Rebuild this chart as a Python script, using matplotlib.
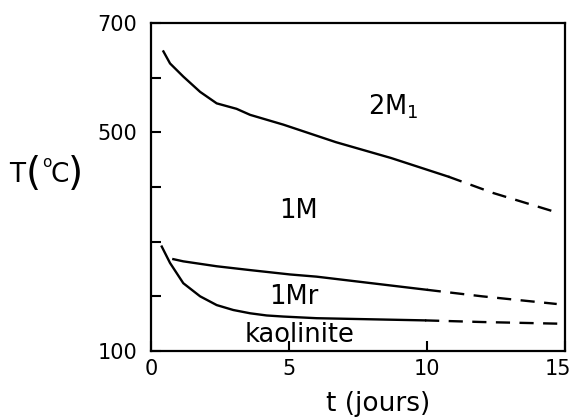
# %% Pakete

import matplotlib
matplotlib.use('Agg')
import matplotlib.pyplot as plt
from matplotlib.transforms import ScaledTranslation

plt.rcParams['font.family'] = ['DejaVu Sans']
plt.rcParams['mathtext.fontset'] = 'dejavusans'

# %% Daten

# Grenze 2M1 / 1M
t_2m1 = [0.45, 0.69, 1.17, 1.78, 2.38, 3.1, 3.59, 4.8, 6.7, 8.7, 10.77]
T_2m1 = [648, 626, 602, 574, 553, 543, 532, 514, 482, 453, 419]
t_2m1_dash = [10.77, 12.4, 14.8]
T_2m1_dash = [419, 389, 352]

# Grenze 1M / 1Mr
t_1m = [0.81, 1.17, 2.38, 3.59, 5.04, 6.0, 9.99]
T_1m = [268, 264, 255, 248, 240, 236, 212]
t_1m_dash = [9.99, 12.0, 14.7]
T_1m_dash = [212, 200, 186]

# Grenze 1Mr / kaolinite
t_kao = [0.39, 0.69, 1.17, 1.78, 2.38, 2.98, 3.59, 4.19, 4.8, 6.0, 9.93]
T_kao = [291, 261, 224, 200, 184, 175, 169, 165, 163, 160, 156]
t_kao_dash = [9.93, 12.0, 14.76]
T_kao_dash = [156, 153, 150]

# Beschriftungen der Felder
feld_text = ['1M', '1Mr', 'kaolinite']
feld_t = [5.33, 5.18, 5.4]
feld_T = [356, 199, 130]

x_ticks = [0, 5, 10, 15]
y_ticks = [100, 200, 300, 400, 500, 600, 700]
y_labels = ['100', '', '', '', '500', '', '700']

# %% Plot

fig = plt.figure(figsize=(5.73, 4.2), dpi=100)
ax = fig.add_axes([151/573, 1 - 351/420, 414/573, 328/420])

lw = 1.7
dash = (6, 4)
for t, T in [(t_2m1, T_2m1), (t_1m, T_1m), (t_kao, T_kao)]:
    ax.plot(t, T, color='black', lw=lw)
for t, T in [(t_2m1_dash, T_2m1_dash), (t_1m_dash, T_1m_dash), (t_kao_dash, T_kao_dash)]:
    ax.plot(t, T, color='black', lw=lw, dashes=dash)

for txt, t, T in zip(feld_text, feld_t, feld_T):
    ax.text(t, T, txt, fontsize=18.5, ha='center', va='center')
ax.text(7.86, 532, '2M$_1$', fontsize=18.5, ha='left', va='baseline')

ax.set_xlim(0, 15)
ax.set_ylim(100, 700)
ax.set_xticks(x_ticks)
ax.set_xticklabels([str(v) for v in x_ticks])
ax.set_yticks(y_ticks)
ax.set_yticklabels(y_labels)
ax.tick_params(direction='in', length=7, width=1.5, labelsize=15)
ax.tick_params(axis='y', pad=10)
ax.tick_params(axis='x', pad=6)
for s in ax.spines.values():
    s.set_linewidth(1.6)
# letzte x-Beschriftung etwas nach links
lab15 = ax.get_xticklabels()[-1]
lab15.set_transform(lab15.get_transform() + ScaledTranslation(-7/100, 0, fig.dpi_scale_trans))

# y-Achsenbeschriftung T(°C) mit grossen Klammern
def fx(px):
    return px / 573

def fy(py):
    return 1 - py / 420

fig.text(fx(9), fy(182), 'T', fontsize=19, ha='left', va='baseline')
fig.text(fx(26), fy(185), '(', fontsize=28, ha='left', va='baseline')
fig.text(fx(42), fy(167), 'o', fontsize=11, ha='left', va='baseline')
fig.text(fx(51), fy(182), 'C', fontsize=19, ha='left', va='baseline')
fig.text(fx(68), fy(185), ')', fontsize=28, ha='left', va='baseline')

fig.text(fx(378), fy(404), 't (jours)', fontsize=19, ha='center', va='center')

fig.savefig('out.png', dpi=100)
